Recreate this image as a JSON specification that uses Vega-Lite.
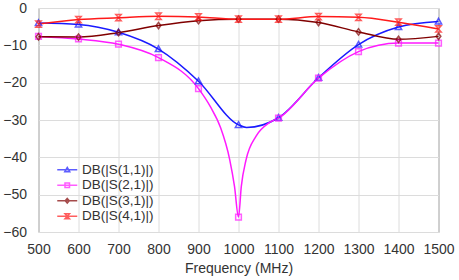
{
  "$schema": "https://vega.github.io/schema/vega-lite/v6.json",
  "width": 400,
  "height": 224,
  "autosize": {"type": "none"},
  "padding": {"left": 38.5, "top": 8, "right": 20.5, "bottom": 48},
  "config": {
    "font": "Liberation Sans",
    "view": {"stroke": "#888888", "strokeWidth": 1},
    "axis": {
      "labelFont": "Liberation Sans",
      "titleFont": "Liberation Sans",
      "labelFontSize": 14,
      "titleFontSize": 14,
      "titleFontWeight": "normal",
      "labelColor": "#333333",
      "titleColor": "#333333",
      "gridColor": "#dcdcdc",
      "domain": false,
      "ticks": false,
      "tickSize": 0
    },
    "legend": {
      "labelFont": "Liberation Sans",
      "labelFontSize": 13.5,
      "labelColor": "#333333",
      "padding": 0,
      "rowPadding": 0.5
    }
  },
  "data": {
    "values": [
      {"f": 500, "db": -4.0, "s": "DB(|S(1,1)|)", "m": 1},
      {"f": 600, "db": -4.4, "s": "DB(|S(1,1)|)", "m": 1},
      {"f": 700, "db": -6.5, "s": "DB(|S(1,1)|)", "m": 1},
      {"f": 800, "db": -11.0, "s": "DB(|S(1,1)|)", "m": 1},
      {"f": 900, "db": -19.6, "s": "DB(|S(1,1)|)", "m": 1},
      {"f": 1000, "db": -31.3, "s": "DB(|S(1,1)|)", "m": 1},
      {"f": 1020, "db": -32.0, "s": "DB(|S(1,1)|)", "m": 0},
      {"f": 1100, "db": -29.4, "s": "DB(|S(1,1)|)", "m": 1},
      {"f": 1200, "db": -18.7, "s": "DB(|S(1,1)|)", "m": 1},
      {"f": 1300, "db": -9.8, "s": "DB(|S(1,1)|)", "m": 1},
      {"f": 1400, "db": -5.1, "s": "DB(|S(1,1)|)", "m": 1},
      {"f": 1500, "db": -3.6, "s": "DB(|S(1,1)|)", "m": 1},

      {"f": 500, "db": -7.6, "s": "DB(|S(2,1)|)", "m": 1},
      {"f": 600, "db": -8.3, "s": "DB(|S(2,1)|)", "m": 1},
      {"f": 700, "db": -9.7, "s": "DB(|S(2,1)|)", "m": 1},
      {"f": 800, "db": -13.3, "s": "DB(|S(2,1)|)", "m": 1},
      {"f": 900, "db": -21.6, "s": "DB(|S(2,1)|)", "m": 1},
      {"f": 930, "db": -26.5, "s": "DB(|S(2,1)|)", "m": 0},
      {"f": 955, "db": -32.0, "s": "DB(|S(2,1)|)", "m": 0},
      {"f": 978, "db": -40.6, "s": "DB(|S(2,1)|)", "m": 0},
      {"f": 990, "db": -47.8, "s": "DB(|S(2,1)|)", "m": 0},
      {"f": 1000, "db": -56.0, "s": "DB(|S(2,1)|)", "m": 1},
      {"f": 1007, "db": -47.8, "s": "DB(|S(2,1)|)", "m": 0},
      {"f": 1019, "db": -40.6, "s": "DB(|S(2,1)|)", "m": 0},
      {"f": 1044, "db": -34.3, "s": "DB(|S(2,1)|)", "m": 0},
      {"f": 1077, "db": -30.7, "s": "DB(|S(2,1)|)", "m": 0},
      {"f": 1100, "db": -29.5, "s": "DB(|S(2,1)|)", "m": 1},
      {"f": 1200, "db": -18.8, "s": "DB(|S(2,1)|)", "m": 1},
      {"f": 1300, "db": -11.7, "s": "DB(|S(2,1)|)", "m": 1},
      {"f": 1400, "db": -9.4, "s": "DB(|S(2,1)|)", "m": 1},
      {"f": 1500, "db": -9.4, "s": "DB(|S(2,1)|)", "m": 1},

      {"f": 500, "db": -7.7, "s": "DB(|S(3,1)|)", "m": 1},
      {"f": 600, "db": -7.8, "s": "DB(|S(3,1)|)", "m": 1},
      {"f": 700, "db": -6.6, "s": "DB(|S(3,1)|)", "m": 1},
      {"f": 800, "db": -4.7, "s": "DB(|S(3,1)|)", "m": 1},
      {"f": 900, "db": -3.4, "s": "DB(|S(3,1)|)", "m": 1},
      {"f": 1000, "db": -3.0, "s": "DB(|S(3,1)|)", "m": 1},
      {"f": 1100, "db": -3.0, "s": "DB(|S(3,1)|)", "m": 1},
      {"f": 1200, "db": -3.9, "s": "DB(|S(3,1)|)", "m": 1},
      {"f": 1300, "db": -6.4, "s": "DB(|S(3,1)|)", "m": 1},
      {"f": 1400, "db": -8.4, "s": "DB(|S(3,1)|)", "m": 1},
      {"f": 1500, "db": -7.6, "s": "DB(|S(3,1)|)", "m": 1},

      {"f": 500, "db": -4.3, "s": "DB(|S(4,1)|)", "m": 1},
      {"f": 600, "db": -3.1, "s": "DB(|S(4,1)|)", "m": 1},
      {"f": 700, "db": -2.6, "s": "DB(|S(4,1)|)", "m": 1},
      {"f": 800, "db": -2.2, "s": "DB(|S(4,1)|)", "m": 1},
      {"f": 900, "db": -2.4, "s": "DB(|S(4,1)|)", "m": 1},
      {"f": 1000, "db": -3.0, "s": "DB(|S(4,1)|)", "m": 1},
      {"f": 1100, "db": -3.0, "s": "DB(|S(4,1)|)", "m": 1},
      {"f": 1200, "db": -2.3, "s": "DB(|S(4,1)|)", "m": 1},
      {"f": 1300, "db": -2.5, "s": "DB(|S(4,1)|)", "m": 1},
      {"f": 1400, "db": -3.8, "s": "DB(|S(4,1)|)", "m": 1},
      {"f": 1500, "db": -5.6, "s": "DB(|S(4,1)|)", "m": 1}
    ]
  },
  "encoding": {
    "x": {
      "field": "f", "type": "quantitative",
      "scale": {"domain": [500, 1500], "nice": false, "zero": false},
      "axis": {"values": [500, 600, 700, 800, 900, 1000, 1100, 1200, 1300, 1400, 1500], "format": "d", "title": "Frequency (MHz)", "labelPadding": 10, "titlePadding": 5, "labelFlush": false}
    },
    "y": {
      "field": "db", "type": "quantitative",
      "scale": {"domain": [-60, 0], "nice": false, "zero": false},
      "axis": {"values": [0, -10, -20, -30, -40, -50, -60], "title": null, "labelPadding": 12, "labelFlush": false}
    }
  },
  "layer": [
    {
      "mark": {"type": "line", "interpolate": "monotone", "strokeWidth": 1.5},
      "encoding": {
        "color": {
          "field": "s", "type": "nominal", "legend": null,
          "scale": {
            "domain": ["DB(|S(1,1)|)", "DB(|S(2,1)|)", "DB(|S(3,1)|)", "DB(|S(4,1)|)"],
            "range": ["#1a1aff", "#ff1aff", "#800000", "#ff1a1a"]
          }
        }
      }
    },
    {
      "transform": [{"filter": "datum.m == 1"}],
      "mark": {"type": "point", "filled": false, "size": 40, "strokeWidth": 1.5},
      "encoding": {
        "color": {
          "field": "s", "type": "nominal", "legend": null,
          "scale": {
            "domain": ["DB(|S(1,1)|)", "DB(|S(2,1)|)", "DB(|S(3,1)|)", "DB(|S(4,1)|)"],
            "range": ["#1a1aff", "#ff1aff", "#800000", "#ff1a1a"]
          }
        },
        "shape": {
          "field": "s", "type": "nominal", "legend": null,
          "scale": {
            "domain": ["DB(|S(1,1)|)", "DB(|S(2,1)|)", "DB(|S(3,1)|)", "DB(|S(4,1)|)"],
            "range": ["M0,-1L1,0.8H-1Z", "M-0.9,-0.9H0.9V0.9H-0.9Z", "M0,-1L0.75,0L0,1L-0.75,0Z", "M-0.85,-1H0.85L-0.85,1H0.85Z"]
          }
        }
      }
    },
    {
      "transform": [{"filter": "datum.m == 1"}],
      "mark": {"type": "point", "filled": false, "size": 0, "strokeWidth": 1.5},
      "encoding": {
        "color": {
          "field": "s", "type": "nominal",
          "scale": {
            "domain": ["DB(|S(1,1)|)", "DB(|S(2,1)|)", "DB(|S(3,1)|)", "DB(|S(4,1)|)"],
            "range": ["#1a1aff", "#ff1aff", "#800000", "#ff1a1a"]
          },
          "legend": {
            "title": null,
            "orient": "none",
            "legendX": 22,
            "legendY": 155,
            "symbolSize": 100,
            "symbolStrokeWidth": 1.5,
            "labelOffset": 8
          }
        },
        "shape": {
          "field": "s", "type": "nominal",
          "scale": {
            "domain": ["DB(|S(1,1)|)", "DB(|S(2,1)|)", "DB(|S(3,1)|)", "DB(|S(4,1)|)"],
            "range": ["M-2,0H2M0,-0.45L0.5,0.4H-0.5Z", "M-2,0H2M-0.45,-0.45H0.45V0.45H-0.45Z", "M-2,0H2M0,-0.45L0.4,0L0,0.45L-0.4,0Z", "M-2,0H2M-0.45,-0.5H0.45L-0.45,0.5H0.45Z"]
          },
          "legend": {
            "title": null,
            "orient": "none",
            "legendX": 22,
            "legendY": 155,
            "symbolSize": 100,
            "symbolStrokeWidth": 1.5,
            "labelOffset": 8
          }
        }
      }
    }
  ],
  "resolve": {"scale": {"shape": "independent", "color": "independent"}}
}
